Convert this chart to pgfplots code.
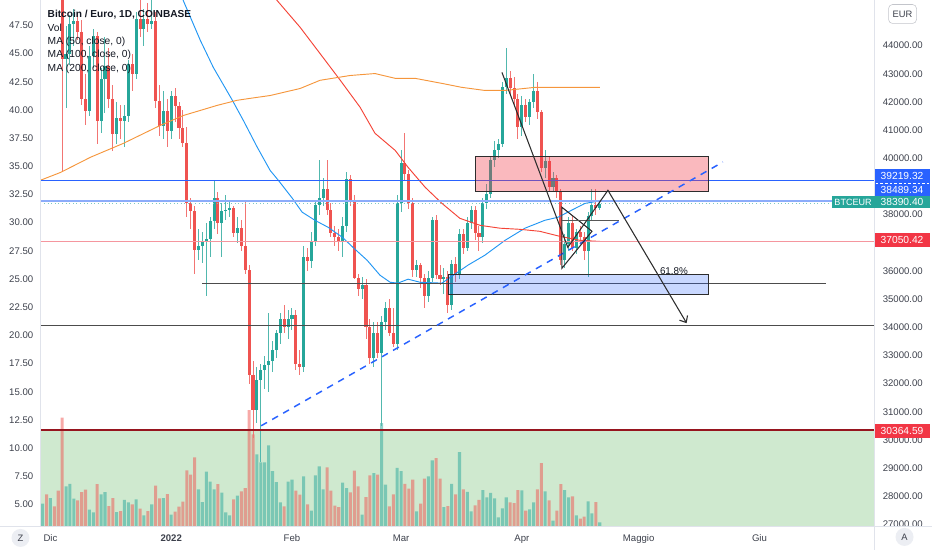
\documentclass[border=0pt]{standalone}
\usepackage{fontspec}
\setmainfont{Liberation Sans}
\usepackage{pgfplots}
\usepackage{pgfplotstable}
\pgfplotsset{compat=1.18}
\usetikzlibrary{arrows.meta}

\definecolor{upc}{RGB}{38,166,154}
\definecolor{dnc}{RGB}{239,83,80}
\definecolor{ma50}{RGB}{33,150,243}
\definecolor{ma100}{RGB}{244,67,54}
\definecolor{ma200}{RGB}{245,150,60}
\definecolor{hblue}{RGB}{41,98,255}
\definecolor{hlblue}{RGB}{140,172,250}
\definecolor{hpink}{RGB}{245,150,158}
\definecolor{hmaroon}{RGB}{150,20,30}
\definecolor{tagred}{RGB}{242,54,69}
\definecolor{greenbg}{RGB}{207,233,207}
\definecolor{txt}{RGB}{19,23,34}
\definecolor{axtxt}{RGB}{60,64,75}
\definecolor{border}{RGB}{224,227,235}
\definecolor{shp}{RGB}{45,45,45}

% day index from 1 Dec 2021, open high low close, volume (left scale)
\pgfplotstableread{
d o h l c v
-2 50400 51600 50100 51150 5.06
0 50440 52100 50000 50620 5.56
4 43540 44700 41800 43720 6.60
5 43720 45100 43300 44780 6.83
6 44780 45300 44000 44860 5.50
10 41680 44000 41500 43630 4.53
11 43630 44600 43200 44340 4.29
13 41330 43200 40900 42830 5.89
14 42830 44300 41600 43270 6.09
17 40880 42000 40500 41420 4.32
19 41330 41880 40390 41500 5.41
20 41500 43500 41300 43360 5.18
22 43010 45200 42800 44960 5.44
24 44600 45300 44000 44960 4.02
26 44780 46300 44600 44870 5.00
29 41150 42400 40700 41680 5.56
31 40970 42400 40700 42210 4.08
38 36730 37500 36400 36900 6.33
39 36900 37400 36300 37080 5.21
40 37080 37700 35100 37120 7.90
41 37120 37900 36500 37790 7.01
42 37790 39200 37500 38600 6.33
44 37700 38400 36500 38140 6.04
45 38140 38700 37800 38180 4.29
46 38180 38500 37900 38230 4.02
48 37350 37900 37000 37520 5.77
53 31060 32600 30600 32120 9.44
54 32120 32700 29220 32480 8.73
55 32480 33000 31800 32650 8.73
56 32650 34500 31700 32800 10.23
57 32800 33500 32400 33200 7.96
58 33200 33900 32900 33800 6.98
59 33800 34500 33400 34300 5.18
61 34000 34600 33600 34300 7.01
62 34300 34700 33900 34450 7.19
65 32600 36900 32400 36500 7.48
67 36350 37400 36100 37050 4.44
68 37050 38500 36900 38350 7.57
69 38350 39950 38000 38600 8.37
70 38600 39300 38300 38900 6.33
75 37020 37900 36500 37600 6.92
76 37600 39500 37400 39250 6.45
80 35350 35800 35000 35500 4.08
83 32900 34200 32600 33800 7.78
85 33100 34400 30500 34200 12.22
86 34200 34900 33900 34700 6.75
89 33400 38700 33200 38400 8.25
90 38400 40300 38100 39850 7.96
94 36050 36400 35800 36200 4.38
97 35100 36000 34900 35750 7.48
98 35750 37900 35600 37800 8.90
101 35700 36100 35200 35800 4.76
103 34800 36400 34600 36250 6.83
105 35900 37500 35700 37300 9.64
107 36800 37900 36700 37700 6.12
108 37700 38300 37500 38150 4.38
111 37200 38600 37000 38400 6.27
112 38400 39100 38200 38750 5.62
113 38750 40100 38600 39950 6.01
114 39950 40600 39700 40300 5.53
115 40300 40700 40000 40500 3.85
116 40500 42700 40400 42550 4.65
117 42550 43900 42300 42850 5.62
121 41100 42200 40800 41880 6.24
123 41450 42100 41200 41990 4.56
124 41990 43000 41800 42400 5.18
127 39650 40300 39300 39900 6.15
129 39000 39500 38800 39300 3.55
132 36400 37300 36100 36950 6.27
133 36950 37900 36700 37700 5.62
135 36800 37500 36600 37400 4.02
138 36700 38100 35800 37950 5.27
139 37950 38900 37800 38350 4.20
141 38250 38500 38150 38390.40 3.40
}\upT

\pgfplotstableread{
d o h l c v
-1 51150 51700 49900 50440 5.89
1 50620 51000 49600 50000 4.82
2 50000 50400 46800 47430 6.21
3 47430 47600 39500 43540 12.69
7 44860 45200 44200 44500 5.36
8 44500 44900 41900 42120 6.09
9 42120 43000 41200 41680 6.30
12 44340 44500 40500 41330 6.80
15 43270 43900 41800 42120 4.85
16 42120 42600 40250 40880 5.56
18 41420 41900 40700 41330 4.41
21 43360 43700 42400 43010 5.00
23 44960 45700 44300 44600 4.62
25 44960 45500 44500 44780 4.41
27 44870 45200 41800 42040 6.66
28 42040 42600 40800 41150 5.53
30 41680 42100 40400 40970 5.92
32 42210 42500 41300 41860 4.35
33 41860 42000 40700 41060 4.79
34 41060 41700 40400 40530 5.24
35 40530 41100 37900 38410 8.02
36 38410 38600 37500 38140 7.63
37 38140 38300 35900 36730 9.17
43 38600 38800 37300 37700 6.80
47 38230 38300 37200 37350 5.44
49 37520 37800 36700 36900 6.15
50 36900 38500 35900 36020 6.45
51 36020 36200 32000 32300 13.37
52 32300 32800 30070 31060 11.21
60 34300 34800 33800 34000 4.82
63 34450 34600 32500 32700 6.21
64 32700 33200 32300 32600 5.86
66 36500 36800 36000 36350 5.00
71 38900 39950 38000 38150 8.28
72 38150 38400 37200 37350 6.21
73 37350 37600 36900 37200 4.88
74 37200 37500 36700 37020 4.76
77 39250 39400 38300 38500 6.07
78 38500 38700 35700 35750 7.99
79 35750 35900 35100 35350 6.60
81 35500 35700 33600 34000 5.65
82 34000 34300 32700 32900 7.57
84 33800 34200 32900 33100 7.63
87 34700 35000 33700 33800 4.82
88 33800 34700 33300 33400 5.89
91 39850 40900 39200 39450 6.83
92 39450 39600 38200 38400 6.39
93 38400 38600 35800 36050 7.19
95 36200 36300 35400 35750 5.06
96 35750 35900 34700 35100 7.28
99 37800 38000 35700 35850 9.11
100 35850 36200 35500 35700 7.28
102 35800 36000 34500 34800 4.85
104 36250 36500 35600 35900 5.89
106 37300 37500 36600 36800 6.33
109 38150 38300 37100 37350 4.91
110 37350 37600 36700 37200 5.41
118 42850 43100 42300 42500 5.18
119 42500 42900 41900 42100 5.12
120 42100 42300 40700 41100 6.27
122 41880 42100 41300 41450 4.44
125 42400 42700 41400 41650 6.33
126 41650 41700 39500 39650 8.67
128 39900 40100 38800 39000 5.36
130 39300 39400 38600 38800 4.44
131 38800 38900 36200 36400 6.80
134 37700 38000 36700 36800 5.71
136 37400 37600 37000 37200 3.73
137 37200 37400 36400 36700 3.91
140 38350 38900 38000 38250 5.21
}\dnT

\begin{document}
\begin{tikzpicture}
\begin{scope}[shift={(-30pt,395.25pt)}, x=0.75pt, y=-0.75pt]
\path[use as bounding box] (0,0) rectangle (932,550);
\end{scope}

% left scale: volume pane and time axis
\begin{axis}[
    scale only axis, width=626.25pt, height=395.25pt,
    xmin=-2.564, xmax=211.54, ymin=2.998, ymax=49.72,
    axis line style={draw=none}, major tick length=0pt,
    ytick={5,7.5,10,12.5,15,17.5,20,22.5,25,27.5,30,32.5,35,37.5,40,42.5,45,47.5},
    yticklabel pos=left,
    yticklabel style={anchor=east, inner sep=0pt, xshift=-5.25pt,
        /pgf/number format/fixed, /pgf/number format/fixed zerofill,
        /pgf/number format/precision=2, /pgf/number format/assume math mode=true},
    xtick={0,31,62,90,121,151,182},
    xticklabels={Dic,\textbf{2022},Feb,Mar,Apr,Maggio,Giu},
    xticklabel style={anchor=north, inner sep=0pt, yshift=-5.6pt},
    tick label style={font=\fontsize{7.2}{8}\selectfont, text=axtxt},
    clip mode=individual,
]
\fill[greenbg] (axis cs:-2.564,2.998) rectangle (axis cs:211.54,11.62);
\addplot[ybar, bar width=0.78, bar shift=0pt, draw=none, fill=upc, fill opacity=0.5]
    table[x=d, y=v] {\upT};
\addplot[ybar, bar width=0.78, bar shift=0pt, draw=none, fill=dnc, fill opacity=0.5]
    table[x=d, y=v] {\dnT};
\end{axis}

% right scale: price
\begin{axis}[
    scale only axis, width=626.25pt, height=395.25pt,
    xmin=-2.564, xmax=211.54, ymin=26915, ymax=45603,
    axis line style={draw=none}, major tick length=0pt,
    xtick=\empty, scaled y ticks=false,
    ytick={27000,28000,29000,30000,31000,32000,33000,34000,35000,36000,38000,40000,41000,42000,43000,44000},
    yticklabel pos=right,
    yticklabel style={anchor=west, inner sep=0pt, xshift=6pt,
        /pgf/number format/fixed, /pgf/number format/fixed zerofill,
        /pgf/number format/precision=2, /pgf/number format/1000 sep={},
        /pgf/number format/assume math mode=true},
    tick label style={font=\fontsize{7.2}{8}\selectfont, text=axtxt},
    clip mode=individual,
]
% wicks
\addplot[draw=none, mark=none, error bars/.cd, y dir=both, y explicit, error mark=none,
    error bar style={solid, line width=0.75pt, draw=upc!80}]
    table[x=d, y expr={(\thisrow{h}+\thisrow{l})/2}, y error expr={(\thisrow{h}-\thisrow{l})/2}] {\upT};
\addplot[draw=none, mark=none, error bars/.cd, y dir=both, y explicit, error mark=none,
    error bar style={solid, line width=0.75pt, draw=dnc!80}]
    table[x=d, y expr={(\thisrow{h}+\thisrow{l})/2}, y error expr={(\thisrow{h}-\thisrow{l})/2}] {\dnT};
% bodies
\addplot[draw=none, mark=none, error bars/.cd, y dir=both, y explicit, error mark=none,
    error bar style={solid, line width=2.3pt, draw=upc}]
    table[x=d, y expr={(\thisrow{o}+\thisrow{c})/2}, y error expr={(\thisrow{c}-\thisrow{o})/2}] {\upT};
\addplot[draw=none, mark=none, error bars/.cd, y dir=both, y explicit, error mark=none,
    error bar style={solid, line width=2.3pt, draw=dnc}]
    table[x=d, y expr={(\thisrow{o}+\thisrow{c})/2}, y error expr={(\thisrow{o}-\thisrow{c})/2}] {\dnT};

% moving averages
\addplot[ma50, line width=0.7pt, mark=none] coordinates {
 (32.1,46310) (34.1,45600) (38.5,44180) (41.8,43230) (46.7,42060) (49.5,41350)
 (53.1,40390) (56.4,39570) (58.5,39220) (62.1,38580) (64.6,38090) (67.9,37800)
 (71.3,37550) (74.9,37200) (78.2,36770) (81.3,36380) (84.6,35850) (87.2,35600)
 (89.2,35570) (91.8,35710) (94.9,35600) (100.5,35570) (103.1,35820) (107.2,36210)
 (111.5,36560) (116.7,37090) (121.8,37520) (126.9,37800) (130.3,37910) (133.8,38160)
 (137.2,38400) (141,38489) };
\addplot[ma100, line width=0.7pt, mark=none] coordinates {
 (56.4,45960) (58.2,45600) (64.1,44650) (69.2,43720) (74.4,42770) (79.5,41810)
 (83.3,40890) (88.5,40280) (91.8,39680) (96.2,38970) (100.5,38400) (105.1,37870)
 (110.3,37620) (115.4,37520) (120.5,37480) (125.6,37410) (130.8,37230) (135.9,37090)
 (141,37050) };
\addplot[ma200, line width=0.7pt, mark=none] coordinates {
 (-2.6,39220) (2.6,39500) (10.3,40040) (18.7,40530) (28.2,41170) (34.1,41520)
 (42.8,41880) (47.9,42060) (51.3,42130) (56.4,42230) (64.1,42480) (69.2,42770)
 (76.9,42940) (83.3,43010) (88.5,42840) (93.6,42840) (100.5,42660) (105.6,42520)
 (111.5,42410) (116.7,42410) (124.4,42520) (132.8,42520) (141,42520) };

% horizontal levels
\draw[hblue, line width=1.1pt] (axis cs:-2.564,39219.32) -- (axis cs:211.54,39219.32);
\draw[hlblue, line width=1.1pt] (axis cs:-2.564,38489.34) -- (axis cs:211.54,38489.34);
\draw[upc!60, line width=0.7pt, dotted] (axis cs:-2.564,38390.40) -- (axis cs:211.54,38390.40);
\draw[hpink, line width=1.1pt] (axis cs:-2.564,37050.42) -- (axis cs:211.54,37050.42);
\draw[hmaroon, line width=1.2pt] (axis cs:-2.564,30364.59) -- (axis cs:211.54,30364.59);
\draw[shp!85, line width=0.8pt] (axis cs:-2.564,34060) -- (axis cs:211.54,34060);
\draw[shp!85, line width=0.8pt] (axis cs:39.0,35560) -- (axis cs:199.0,35560);

% zones
\draw[shp, line width=0.7pt, fill=tagred, fill opacity=0.35]
    (axis cs:109.0,38830) rectangle (axis cs:169.0,40070);
\draw[shp, line width=0.7pt, fill=hblue, fill opacity=0.25]
    (axis cs:102.1,35180) rectangle (axis cs:169.0,35890);

% trend line and pattern
\draw[hblue, line width=1.1pt, dash pattern=on 5pt off 4.5pt]
    (axis cs:54.1,30507) -- (axis cs:172.6,39869);
\draw[shp, line width=0.8pt] (axis cs:131.3,38262) -- (axis cs:139.0,37411)
    -- (axis cs:131.3,36100) -- cycle;
\draw[shp!80, line width=0.8pt] (axis cs:131.3,37777) -- (axis cs:145.9,37777);
\draw[shp, line width=0.8pt, -{Straight Barb[length=4pt, width=7pt]}]
    (axis cs:115.9,43050) -- (axis cs:132.8,36840) -- (axis cs:143.1,38865)
    -- (axis cs:163.3,34150);
\node[anchor=west, inner sep=0pt, text=txt, font=\fontsize{7.4}{8}\selectfont]
    at (axis cs:156.4,35990) {61.8\%};
\end{axis}

% frame, price tags and legend, in pixel units of the 932x550 picture
\begin{scope}[shift={(-30pt,395.25pt)}, x=0.75pt, y=-0.75pt]
\fill[white] (875,527.5) rectangle (932,550);
\draw[border, line width=0.75pt] (0,527) -- (932,527);
\draw[border, line width=0.75pt] (875,0) -- (875,550);
\draw[border, line width=0.75pt] (40,0) -- (40,527);

\tikzset{tag/.style={text=white, font=\fontsize{7.7}{8}\selectfont, inner sep=0pt}}
\fill[hblue] (875,169) rectangle (930,183);
\node[tag] at (902.5,176) {39219.32};
\fill[hblue] (875,183) rectangle (930,195.5);
\node[tag] at (902.5,189.3) {38489.34};
\draw[white, line width=0.6pt, dash pattern=on 2pt off 1.5pt] (876,183) -- (929,183);
\fill[upc] (875,195.5) rectangle (930,208);
\node[tag] at (902.5,201.8) {38390.40};
\fill[tagred] (875,233) rectangle (930,247);
\node[tag] at (902.5,240) {37050.42};
\fill[tagred] (875,424) rectangle (930,438);
\node[tag] at (902.5,431) {30364.59};
\fill[upc] (832,195.5) rectangle (875,208);
\node[tag, font=\fontsize{6.8}{7}\selectfont] at (853.5,201.8) {BTCEUR};

\draw[fill=white, draw=border!70!gray, rounded corners=3pt] (889,4) rectangle (917,23);
\node[text=axtxt, font=\fontsize{7}{8}\selectfont, inner sep=0pt] at (903,13.5) {EUR};

\fill[border!60] (20,538) circle (9);
\node[text=axtxt, font=\fontsize{7}{8}\selectfont, inner sep=0pt] at (20,538) {Z};
\fill[border!60] (905,537) circle (9);
\node[text=axtxt, font=\fontsize{7}{8}\selectfont, inner sep=0pt] at (905,537) {A};

\tikzset{leg/.style={anchor=west, text=txt, font=\fontsize{7.7}{9}\selectfont, inner sep=0pt}}
\node[leg, font=\fontsize{7.6}{9}\selectfont\bfseries] at (47,14) {Bitcoin / Euro, 1D, COINBASE};
\node[leg] at (47,27.5) {Vol};
\node[leg] at (47,41) {MA (50, close, 0)};
\node[leg] at (47,54.5) {MA (100, close, 0)};
\node[leg] at (47,68) {MA (200, close, 0)};
\end{scope}
\end{tikzpicture}
\end{document}
